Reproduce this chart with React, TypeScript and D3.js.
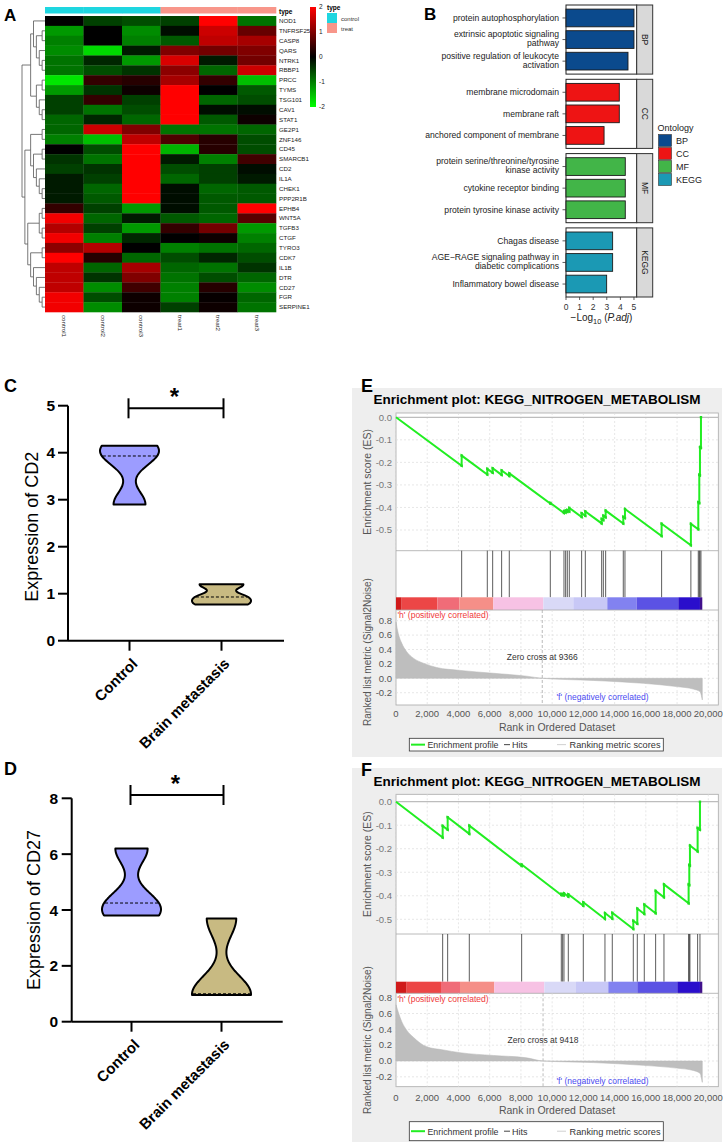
import React from "react";
import * as d3 from "d3";

const FONT = "'Liberation Sans', Arial, Helvetica, sans-serif";

// ================= A: heatmap data =================
const genes = ["NOD1","TNFRSF25","CASP8","QARS","NTRK1","RBBP1","PRCC","TYMS","TSG101","CAV1","STAT1","GE2P1","ZNF146","CD45","SMARCB1","CD2","IL1A","CHEK1","PPP2R1B","EPHB4","WNT5A","TGFB3","CTGF","TYRO3","CDK7","IL1B","DTR","CD27","FGR","SERPINE1"];
const samples = ["control1","control2","control3","treat1","treat2","treat3"];
const sampleTypes = ["control","control","control","treat","treat","treat"];
const typeLevels = ["control","treat"];
const heatTicks = [2, 1, 0, -1, -2];
const heatValues = [
  [0.0,-0.5,-0.6,-0.5,2.0,-0.9],
  [-1.2,0.0,-1.1,-0.1,1.6,0.8],
  [-1.0,0.0,-1.0,-0.7,1.5,1.3],
  [-1.1,-1.7,-0.2,1.0,0.9,1.0],
  [-0.9,-0.3,-1.2,1.7,-0.2,0.9],
  [-0.9,-0.6,-0.4,1.1,-0.8,1.6],
  [-1.8,0.4,0.3,1.3,0.4,-1.5],
  [-1.2,-0.4,0.1,2.0,0.0,-0.7],
  [-0.5,0.4,-0.5,2.0,-0.8,-0.6],
  [-0.5,-0.9,-0.6,2.0,-0.1,-0.1],
  [-0.8,-0.3,-0.8,2.0,-0.7,0.1],
  [-0.8,1.6,1.0,-0.9,-0.9,-0.8],
  [-1.0,-1.5,1.5,0.6,0.3,-0.6],
  [0.0,-0.6,2.0,-1.4,0.3,-0.6],
  [-0.4,-0.9,2.0,-0.2,-1.0,0.5],
  [-0.5,-0.4,2.0,-0.6,-0.5,-0.1],
  [-0.2,-0.5,2.0,-0.8,-0.5,-0.2],
  [-0.2,-0.8,2.0,-0.1,-0.8,-0.7],
  [-0.2,-0.7,2.0,-0.1,-0.7,-0.7],
  [0.4,-0.5,-1.2,-0.1,-0.7,2.0],
  [1.9,-0.8,-0.2,-0.7,-0.8,0.7],
  [1.4,-0.5,-1.2,0.4,0.9,-1.2],
  [1.9,-1.0,-0.3,0.0,0.1,-1.0],
  [1.1,1.4,0.0,-1.0,-0.9,-0.8],
  [2.0,0.3,-0.8,-0.6,-0.3,-0.6],
  [1.5,-0.8,1.3,-0.8,-0.9,-0.4],
  [1.5,-0.4,1.0,-0.9,-0.6,-0.8],
  [1.5,-1.1,0.5,-1.0,0.3,-1.1],
  [1.9,-0.6,0.1,-1.0,0.05,-0.8],
  [1.9,-1.1,0.1,-0.5,0.1,-0.9],
];
// row dendrogram (leaf = row index)
const dendroTree = [
  [[0, [[1, 2], [3, [4, 5]]]], [[6, 7], [8, [9, 10]]]],
  [[[11, 12], [[13, 14], [15, [16, [17, 18]]]]], [[[19, 20], [21, 22]], [[23, 24], [25, [26, [27, [28, 29]]]]]]],
];

// ================= B: enrichment bars =================
const ontologies = ["BP", "CC", "MF", "KEGG"];
const bpTerms = ["protein autophosphorylation", "extrinsic apoptotic signaling\npathway", "positive regulation of leukocyte\nactivation"];
const bpValues = [5.0, 5.0, 4.56];
const ccTerms = ["membrane microdomain", "membrane raft", "anchored component of membrane"];
const ccValues = [3.92, 3.92, 2.8];
const mfTerms = ["protein serine/threonine/tyrosine\nkinase activity", "cytokine receptor binding", "protein tyrosine kinase activity"];
const mfValues = [4.36, 4.36, 4.36];
const keggTerms = ["Chagas disease", "AGE\u2212RAGE signaling pathway in\ndiabetic complications", "Inflammatory bowel disease"];
const keggValues = [3.43, 3.43, 2.99];
const barTicks = [0, 1, 2, 3, 4, 5];
const ontColors = ["#0B4A8D", "#EE1414", "#42B548", "#1B99B4"];

// ================= C/D: violins =================
const groups = ["Control", "Brain metastasis"];
const cd2Control = [2.9, 3.93, 4.15];
const cd2Brain = [0.77, 0.93, 1.2];
const cd27Control = [3.8, 4.25, 6.2];
const cd27Brain = [0.96, 1.0, 3.7];
const cd2Ticks = [0, 1, 2, 3, 4, 5];
const cd27Ticks = [0, 2, 4, 6, 8];

// ================= E/F: GSEA =================
const N_GENES = 19600;
const hitsE = [4205, 5847, 6190, 6765, 7255, 9882, 10757, 10864, 10971, 11099, 11888, 12124, 13171, 13278, 13426, 14556, 14663, 17010, 18885, 19359, 19423, 19466, 19530];
const jumpsE = [0.045, 0.025, 0.02, 0.02, 0.012, 0.003, 0.008, 0.008, 0.008, 0.016, 0.017, 0.02, 0.02, 0.02, 0.03, 0.03, 0.04, 0.055, 0.095, 0.12, 0.125, 0.125, 0.136];
const metricRanksE = [0, 149, 363, 683, 1110, 1750, 2603, 4098, 6232, 8366, 9366, 12636, 15837, 17971, 19038, 19466, 19615];
const metricValuesE = [0.78, 0.62, 0.49, 0.37, 0.28, 0.21, 0.15, 0.11, 0.07, 0.03, 0.0, -0.03, -0.07, -0.115, -0.15, -0.185, -0.3];
const colorBreaksE = [0, 363, 2646, 4055, 6232, 9434, 11355, 13532, 15410, 18078, 19466, 19615];

const hitsF = [2988, 3308, 4695, 8047, 10586, 10671, 10757, 11035, 11995, 13382, 13851, 15197, 15453, 15901, 16627, 17160, 18740, 18783, 18825, 19316, 19466];
const jumpsF = [0.05, 0.053, 0.035, 0.006, 0.004, 0.004, 0.008, 0.01, 0.015, 0.025, 0.025, 0.035, 0.065, 0.04, 0.095, 0.055, 0.08, 0.085, 0.085, 0.1, 0.119];
const metricRanksF = [0, 363, 683, 1110, 1964, 3031, 4098, 6232, 8366, 9418, 12636, 15837, 17971, 19038, 19466, 19615];
const metricValuesF = [0.71, 0.5, 0.39, 0.3, 0.18, 0.14, 0.105, 0.07, 0.04, 0.0, -0.02, -0.055, -0.09, -0.12, -0.155, -0.27];
const colorBreaksF = [0, 683, 2881, 4098, 6296, 9498, 11525, 13596, 15453, 18014, 19466, 19615];
const colorBarColors = ["#D01A1A", "#EC4646", "#F06C78", "#F58F88", "#F7C2E4", "#D9D9F7", "#C8C8F6", "#8282F0", "#5B52E4", "#2A0ECC", "#40108C"];
const rankTicks = [0, 2000, 4000, 6000, 8000, 10000, 12000, 14000, 16000, 18000, 20000];
const esTicks = [0, -0.1, -0.2, -0.3, -0.4, -0.5];
const metricTicks = [0.8, 0.6, 0.4, 0.2, 0, -0.2];

// ---------------------------------------------------------------
function Heatmap() {
  const x = d3.scaleBand().domain(samples).range([45, 276]);
  const y = d3.scaleBand().domain(genes).range([16, 312]);
  const color = d3.scaleLinear<string>().domain([-2, 0, 2]).range(["#00FF00", "#000000", "#FF0000"]).clamp(true);
  const typeColor = d3.scaleOrdinal<string, string>().domain(typeLevels).range(["#1ED6E0", "#F8968A"]);
  const legY = d3.scaleLinear().domain([2, -2]).range([7, 107]);

  const root = d3.hierarchy<any>(dendroTree, (d: any) => (Array.isArray(d) ? d : null));
  d3.cluster<any>().size([296, 23]).separation(() => 1)(root);
  const links = root.links();

  return (
    <g fontFamily={FONT}>
      <text x={4} y={21} fontSize={17} fontWeight="bold">A</text>
      {samples.map((s, j) => (
        <rect key={s} x={x(s)} y={7} width={x.bandwidth() + 0.3} height={6.5} fill={typeColor(sampleTypes[j])} />
      ))}
      <text x={279} y={13.5} fontSize={6.5} fontWeight="bold">type</text>
      {heatValues.map((row, i) =>
        row.map((v, j) => (
          <rect key={i + "-" + j} x={x(samples[j])} y={y(genes[i])} width={x.bandwidth() + 0.3} height={y.bandwidth() + 0.3} fill={color(v)} />
        ))
      )}
      {genes.map((g) => (
        <text key={g} x={279} y={(y(g) as number) + y.bandwidth() / 2 + 2.2} fontSize={6.2} fill="#222">{g}</text>
      ))}
      {samples.map((s) => (
        <text key={s} transform={`translate(${(x(s) as number) + x.bandwidth() / 2 - 2.2},315) rotate(90)`} fontSize={6.2} fill="#222">{s}</text>
      ))}
      {links.map((l, i) => {
        const px = 22 + (l.source as any).y, py = 16 + (l.source as any).x;
        const cx = 22 + (l.target as any).y, cy = 16 + (l.target as any).x;
        return <path key={i} d={`M${px},${py}V${cy}H${cx}`} fill="none" stroke="#555" strokeWidth={0.8} />;
      })}
      <defs>
        <linearGradient id="heatGrad" x1="0" y1="0" x2="0" y2="1">
          <stop offset="0%" stopColor="#FF0000" />
          <stop offset="50%" stopColor="#000000" />
          <stop offset="100%" stopColor="#00FF00" />
        </linearGradient>
      </defs>
      <rect x={310} y={legY(2)} width={6} height={legY(-2) - legY(2)} fill="url(#heatGrad)" />
      {heatTicks.map((t) => (
        <text key={t} x={319} y={legY(t) + 2.3} fontSize={6.5} fill="#222">{t}</text>
      ))}
      <text x={327} y={10} fontSize={6.5} fontWeight="bold">type</text>
      {typeLevels.map((t, i) => (
        <g key={t}>
          <rect x={327} y={13 + i * 10} width={10} height={10} fill={typeColor(t)} />
          <text x={341} y={20.5 + i * 10} fontSize={6} fill="#333">{t}</text>
        </g>
      ))}
    </g>
  );
}

// ---------------------------------------------------------------
function EnrichBars() {
  const x = d3.scaleLinear().domain([0, 5.2]).range([566, 636.7]);
  const termSets = [bpTerms, ccTerms, mfTerms, keggTerms];
  const valueSets = [bpValues, ccValues, mfValues, keggValues];
  const panelTop = d3.scaleBand().domain(ontologies).range([5, 297]).paddingInner(0.07);
  const lastBottom = (panelTop("KEGG") as number) + panelTop.bandwidth();
  return (
    <g fontFamily={FONT}>
      <text x={424} y={20} fontSize={17} fontWeight="bold">B</text>
      {ontologies.map((o, i) => {
        const top = panelTop(o) as number;
        const h = panelTop.bandwidth();
        const yb = d3.scalePoint().domain(termSets[i]).range([top, top + h]).padding(0.6);
        const bh = yb.step() * 0.82;
        return (
          <g key={o}>
            <rect x={x(0)} y={top} width={x(5.2) - x(0)} height={h} fill="#fff" stroke="#222" strokeWidth={1} />
            {termSets[i].map((t, k) => {
              const cy = yb(t) as number;
              const lines = t.split("\n");
              return (
                <g key={t}>
                  <rect x={x(0)} y={cy - bh / 2} width={x(valueSets[i][k]) - x(0)} height={bh} fill={ontColors[i]} stroke="#1a1a1a" strokeWidth={0.9} />
                  <line x1={x(0) - 3.5} x2={x(0)} y1={cy} y2={cy} stroke="#333" strokeWidth={0.8} />
                  {lines.map((ln, li) => (
                    <text key={li} x={559} y={lines.length === 1 ? cy + 3 : cy - 2.3 + li * 9} fontSize={8.6} fill="#222" textAnchor="end">{ln}</text>
                  ))}
                </g>
              );
            })}
            <rect x={x(5.2)} y={top} width={16} height={h} fill="#D9D9D9" stroke="#333" strokeWidth={1} />
            <text transform={`translate(${x(5.2) + 5},${top + h / 2}) rotate(90)`} fontSize={8.5} fill="#1a1a1a" textAnchor="middle">{o}</text>
          </g>
        );
      })}
      {barTicks.map((t) => (
        <g key={t}>
          <line x1={x(t)} x2={x(t)} y1={lastBottom} y2={lastBottom + 3} stroke="#333" strokeWidth={0.8} />
          <text x={x(t)} y={lastBottom + 13} fontSize={8.5} fill="#333" textAnchor="middle">{t}</text>
        </g>
      ))}
      <text x={601.5} y={321} fontSize={10} fill="#222" textAnchor="middle">
        {"\u2212Log"}<tspan fontSize={7.5} dy={3}>10</tspan><tspan dy={-3}>{" ("}</tspan><tspan fontStyle="italic">P.adj</tspan>{")"}
      </text>
      <text x={657.5} y={131} fontSize={9} fill="#222">Ontology</text>
      {ontologies.map((o, i) => (
        <g key={o}>
          <rect x={658.5} y={134.5 + i * 13} width={13} height={12} fill={ontColors[i]} stroke="#333" strokeWidth={0.6} />
          <text x={676} y={144 + i * 13} fontSize={9} fill="#222">{o}</text>
        </g>
      ))}
    </g>
  );
}

// ---------------------------------------------------------------
function kdeProfile(vals: number[], yScale: any, cx: number, maxHalf: number) {
  const sd = d3.deviation(vals) as number;
  const h = 0.42 * sd;
  const lo = d3.min(vals) as number, hi = d3.max(vals) as number;
  const grid = d3.range(0, 81).map((i) => lo + ((hi - lo) * i) / 80);
  const dens = (v: number) => d3.sum(vals, (s) => Math.exp(-((v - s) * (v - s)) / (2 * h * h)));
  const dMax = d3.max(grid, dens) as number;
  const w = (v: number) => (dens(v) / dMax) * maxHalf;
  const area = d3.area<number>().y((v) => yScale(v)).x0((v) => cx - w(v)).x1((v) => cx + w(v)).curve(d3.curveBasis);
  const med = d3.median(vals) as number;
  return { path: area(grid) as string, med, wMed: w(med) };
}

function ViolinPanel({ letter, letterY, ticks, yMax, y0, yTop, axisX, axisRight, centers, data, label, labelX, labelY, tickLabelX, sigY, starY }: any) {
  const y = d3.scaleLinear().domain([0, yMax]).range([y0, yTop]);
  const xb = d3.scaleOrdinal<string, number>().domain(groups).range(centers);
  const fills = ["#9C9CFF", "#C8BA82"];
  return (
    <g fontFamily={FONT}>
      <text x={4} y={letterY} fontSize={18} fontWeight="bold">{letter}</text>
      <line x1={axisX} x2={axisX} y1={y(0)} y2={y(yMax)} stroke="#000" strokeWidth={2} />
      <line x1={axisX} x2={axisRight} y1={y(0)} y2={y(0)} stroke="#000" strokeWidth={2} />
      {ticks.map((t: number) => (
        <g key={t}>
          <line x1={axisX - 10} x2={axisX} y1={y(t)} y2={y(t)} stroke="#000" strokeWidth={2} />
          <text x={tickLabelX} y={y(t) + 5.5} fontSize={15.5} fontWeight="bold" textAnchor="end">{t}</text>
        </g>
      ))}
      {groups.map((g, i) => {
        const cx = xb(g);
        const p = kdeProfile(data[i], y, cx, 29.5);
        return (
          <g key={g}>
            <line x1={cx} x2={cx} y1={y(0)} y2={y(0) + 10} stroke="#000" strokeWidth={2} />
            <path d={p.path} fill={fills[i]} stroke="#000" strokeWidth={2} strokeLinejoin="round" />
            <line x1={cx - p.wMed + 1} x2={cx + p.wMed - 1} y1={y(p.med)} y2={y(p.med)} stroke="#000" strokeWidth={1} strokeDasharray="3,2" />
            <text transform={`translate(${cx + 9},${y(0) + 24}) rotate(-45)`} fontSize={15} fontWeight="bold" textAnchor="end">{g}</text>
          </g>
        );
      })}
      <text transform={`translate(${labelX},${labelY}) rotate(-90)`} fontSize={18} textAnchor="middle">{label}</text>
      <line x1={centers[0] - 1} x2={centers[1] + 2} y1={sigY} y2={sigY} stroke="#000" strokeWidth={2} />
      <line x1={centers[0] - 1} x2={centers[0] - 1} y1={sigY - 10} y2={sigY + 10} stroke="#000" strokeWidth={2} />
      <line x1={centers[1] + 2} x2={centers[1] + 2} y1={sigY - 10} y2={sigY + 10} stroke="#000" strokeWidth={2} />
      <text x={(centers[0] + centers[1]) / 2 - 1} y={starY} fontSize={24} fontWeight="bold" textAnchor="middle">*</text>
    </g>
  );
}

// ---------------------------------------------------------------
function GseaPanel({ d, L, letter }: any) {
  const plotL = 396, plotR = 718.3;
  const x = d3.scaleLinear().domain([0, 20000]).range([396, 708.3]);
  const esY = d3.scaleLinear().domain([0, -0.5]).range([L.es0, L.esM05]);
  const rY = d3.scaleLinear().domain([0, 0.8]).range([L.r0, L.r08]);

  const missStep = 1 / (N_GENES - d.hits.length);
  const pts: [number, number][] = [[0, 0]];
  let prev = 0, cur = 0;
  d.hits.forEach((h: number, i: number) => {
    cur -= (h - prev) * missStep;
    pts.push([h, cur]);
    cur += d.jumps[i];
    pts.push([h, cur]);
    prev = h;
  });
  const esLine = d3.line<[number, number]>().x((p) => x(p[0])).y((p) => esY(p[1]));
  const metric = d.ranks.map((r: number, i: number) => [r, d.values[i]] as [number, number]);
  const area = d3.area<[number, number]>().x((p) => x(p[0])).y0(rY(0)).y1((p) => rY(p[1])).curve(d3.curveMonotoneX);
  const fmtX = d3.format(",");
  const gridC = "#DCDCDC";
  const legMid = (L.legTop + L.legBottom) / 2;

  return (
    <g fontFamily={FONT}>
      <rect x={352} y={L.bgTop} width={370} height={L.bgBottom - L.bgTop} fill="#EEEEEE" />
      <text x={361} y={L.letterY} fontSize={18} fontWeight="bold">{letter}</text>
      <text x={537} y={L.titleY} fontSize={13} fontWeight="bold" textAnchor="middle" textLength={327} lengthAdjust="spacingAndGlyphs">{d.title}</text>
      <rect x={plotL} y={L.esTop} width={plotR - plotL} height={L.rankBottom - L.esTop} fill="#fff" stroke="#A8A8A8" strokeWidth={0.8} />
      {rankTicks.map((t) => (
        <line key={"gv" + t} x1={x(t)} x2={x(t)} y1={L.esTop} y2={L.esBottom} stroke={gridC} strokeDasharray="2,2" strokeWidth={0.7} />
      ))}
      {esTicks.map((t) => (
        <g key={"ge" + t}>
          <line x1={plotL} x2={plotR} y1={esY(t)} y2={esY(t)} stroke={t === 0 ? "#BDBDBD" : gridC} strokeDasharray={t === 0 ? undefined : "2,2"} strokeWidth={t === 0 ? 1.2 : 0.7} />
          <text x={392} y={esY(t) + 3.3} fontSize={9.5} fill="#777" textAnchor="end">{t.toFixed(1)}</text>
        </g>
      ))}
      <path d={esLine(pts) as string} fill="none" stroke="#22EE22" strokeWidth={2} />
      {pts.slice(1).map((p, i) => (
        <rect key={"pt" + i} x={x(p[0]) - 1.2} y={esY(p[1]) - 1.2} width={2.4} height={2.4} fill="#22DD22" />
      ))}
      <line x1={plotL} x2={plotR} y1={L.esBottom} y2={L.esBottom} stroke="#A8A8A8" strokeWidth={0.8} />
      {d.hits.map((h: number) => (
        <line key={"h" + h} x1={x(h)} x2={x(h)} y1={L.esBottom} y2={L.cbTop} stroke="#333" strokeWidth={0.8} />
      ))}
      {colorBarColors.map((c, i) => (
        <rect key={"cb" + i} x={x(d.breaks[i])} y={L.cbTop} width={x(d.breaks[i + 1]) - x(d.breaks[i])} height={L.cbBottom - L.cbTop} fill={c} />
      ))}
      <line x1={plotL} x2={plotR} y1={L.cbBottom} y2={L.cbBottom} stroke="#A8A8A8" strokeWidth={0.8} />
      {rankTicks.map((t) => (
        <line key={"rv" + t} x1={x(t)} x2={x(t)} y1={L.cbBottom} y2={L.rankBottom} stroke={gridC} strokeDasharray="2,2" strokeWidth={0.7} />
      ))}
      {metricTicks.map((t) => (
        <g key={"rm" + t}>
          <line x1={plotL} x2={plotR} y1={rY(t)} y2={rY(t)} stroke={gridC} strokeDasharray="2,2" strokeWidth={0.7} />
          <text x={392} y={rY(t) + 3.3} fontSize={9.5} fill="#555" textAnchor="end">{t.toFixed(1)}</text>
        </g>
      ))}
      <path d={area(metric) as string} fill="#BEBEBE" stroke="#B5B5B5" strokeWidth={0.5} />
      <line x1={x(d.zero)} x2={x(d.zero)} y1={L.cbBottom} y2={L.rankBottom} stroke="#AAAAAA" strokeDasharray="3,2" strokeWidth={0.8} />
      <text x={x(d.zero)} y={L.zeroTextY} fontSize={8.5} fill="#333" textAnchor="middle">{"Zero cross at " + d.zero}</text>
      <text x={397.5} y={L.posTextY} fontSize={8.5} fill="#F03A3A">'h' (positively correlated)</text>
      <text x={556.5} y={L.negTextY} fontSize={8.5} fill="#4A4AF0">'f' (negatively correlated)</text>
      {rankTicks.map((t) => (
        <text key={"xt" + t} x={x(t)} y={L.tickLabelY} fontSize={9.5} fill="#555" textAnchor="middle">{fmtX(t)}</text>
      ))}
      <text x={557} y={L.xLabelY} fontSize={10.5} fill="#555" textAnchor="middle">Rank in Ordered Dataset</text>
      <text transform={`translate(371,${(L.esTop + L.esBottom) / 2}) rotate(-90)`} fontSize={10.5} fill="#555" textAnchor="middle">Enrichment score (ES)</text>
      <text transform={`translate(371,${L.rankLabelY}) rotate(-90)`} fontSize={10} fill="#555" textAnchor="middle">Ranked list metric (Signal2Noise)</text>
      <rect x={409.3} y={L.legTop} width={254} height={L.legBottom - L.legTop} fill="#fff" stroke="#333" strokeWidth={0.8} />
      <line x1={411} x2={425} y1={legMid} y2={legMid} stroke="#22EE22" strokeWidth={2} />
      <text x={427.5} y={legMid + 3.3} fontSize={9} fill="#333" textLength={71} lengthAdjust="spacingAndGlyphs">Enrichment profile</text>
      <line x1={504} x2={510} y1={legMid} y2={legMid} stroke="#444" strokeWidth={1} />
      <text x={512} y={legMid + 3.3} fontSize={9} fill="#333">Hits</text>
      <line x1={557} x2={566} y1={legMid} y2={legMid} stroke="#D0D0D0" strokeWidth={1} />
      <text x={569.5} y={legMid + 3.3} fontSize={9} fill="#333" textLength={91} lengthAdjust="spacingAndGlyphs">Ranking metric scores</text>
    </g>
  );
}

const layoutE = { bgTop: 388, bgBottom: 757, letterY: 392, titleY: 404, esTop: 413, esBottom: 550.7, es0: 417.3, esM05: 530, cbTop: 597.3, cbBottom: 610, rankBottom: 705, r08: 620.7, r0: 678.3, tickLabelY: 716.5, xLabelY: 730.5, legTop: 738.3, legBottom: 751, zeroTextY: 659.5, posTextY: 617.5, negTextY: 700, rankLabelY: 652 };
const layoutF = { bgTop: 768, bgBottom: 1142, letterY: 776, titleY: 785.5, esTop: 794.3, esBottom: 934, es0: 801.7, esM05: 919.3, cbTop: 981.7, cbBottom: 993.3, rankBottom: 1086.7, r08: 997.7, r0: 1061, tickLabelY: 1100.5, xLabelY: 1114, legTop: 1121.7, legBottom: 1140.7, zeroTextY: 1043, posTextY: 1001.5, negTextY: 1083.5, rankLabelY: 1040 };

export default function App() {
  const dataE = { title: "Enrichment plot: KEGG_NITROGEN_METABOLISM", hits: hitsE, jumps: jumpsE, ranks: metricRanksE, values: metricValuesE, breaks: colorBreaksE, zero: 9366 };
  const dataF = { title: "Enrichment plot: KEGG_NITROGEN_METABOLISM", hits: hitsF, jumps: jumpsF, ranks: metricRanksF, values: metricValuesF, breaks: colorBreaksF, zero: 9418 };
  return (
    <svg width={727} height={1147} style={{ position: "absolute", left: 0, top: 0, background: "#fff" }}>
      <rect width={727} height={1147} fill="#fff" />
      <Heatmap />
      <EnrichBars />
      <ViolinPanel letter="C" letterY={392} ticks={cd2Ticks} yMax={5} y0={640.7} yTop={405.7} axisX={68} axisRight={284} centers={[129.5, 221.5]} data={[cd2Control, cd2Brain]} label="Expression of CD2" labelX={38} labelY={526.7} tickLabelX={55} sigY={408.3} starY={405} />
      <ViolinPanel letter="D" letterY={775} ticks={cd27Ticks} yMax={8} y0={1021.7} yTop={798.3} axisX={71.7} axisRight={282.7} centers={[131.5, 221.5]} data={[cd27Control, cd27Brain]} label="Expression of CD27" labelX={40} labelY={910} tickLabelX={58} sigY={795} starY={792} />
      <GseaPanel d={dataE} L={layoutE} letter="E" />
      <GseaPanel d={dataF} L={layoutF} letter="F" />
    </svg>
  );
}
